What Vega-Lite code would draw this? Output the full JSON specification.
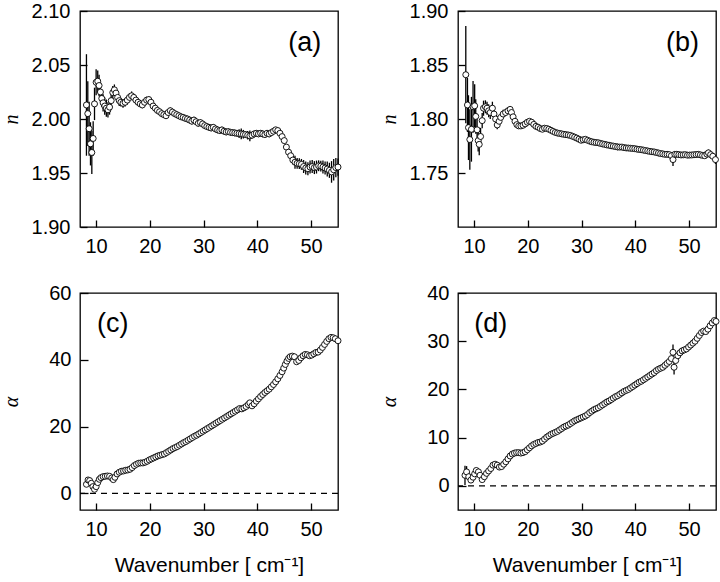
{
"$schema":"https://vega.github.io/schema/vega-lite/v6.json",
"padding":{"left":0,"top":0,"right":2,"bottom":0},
"background":"white",
"config":{"font":"Liberation Sans","view":{"stroke":"black","strokeWidth":1.3},
"axis":{"grid":false,"domain":false,"labelFont":"Liberation Sans","labelFontSize":20,"labelColor":"black","tickColor":"black","tickWidth":1.3,"titleFontWeight":"normal","titleColor":"black"}},
"datasets":{
"a":[{"x":8.2,"y":2.013,"e":0.047},{"x":8.45,"y":2.005,"e":0.03},{"x":8.7,"y":1.991,"e":0.025},{"x":8.95,"y":1.977,"e":0.02},{"x":9.2,"y":1.969,"e":0.02},{"x":9.45,"y":1.982,"e":0.016},{"x":9.7,"y":2.014,"e":0.015},{"x":10.0,"y":2.034,"e":0.012},{"x":10.3,"y":2.035,"e":0.01},{"x":10.55,"y":2.031,"e":0.01},{"x":10.8,"y":2.025,"e":0.009},{"x":11.05,"y":2.019,"e":0.008},{"x":11.3,"y":2.015,"e":0.008},{"x":11.6,"y":2.012,"e":0.008},{"x":11.9,"y":2.01,"e":0.008},{"x":12.2,"y":2.0085,"e":0.007},{"x":12.5,"y":2.011,"e":0.007},{"x":12.8,"y":2.017,"e":0.006},{"x":13.1,"y":2.0245,"e":0.006},{"x":13.4,"y":2.027,"e":0.005},{"x":13.7,"y":2.024,"e":0.005},{"x":14.0,"y":2.02,"e":0.005},{"x":14.3,"y":2.017,"e":0.005},{"x":14.6,"y":2.0155,"e":0.004},{"x":15.0,"y":2.0145,"e":0.004},{"x":15.4,"y":2.0155,"e":0.004},{"x":15.8,"y":2.0175,"e":0.004},{"x":16.2,"y":2.02,"e":0.004},{"x":16.6,"y":2.0215,"e":0.004},{"x":17.0,"y":2.02,"e":0.003},{"x":17.4,"y":2.0175,"e":0.003},{"x":17.8,"y":2.0155,"e":0.003},{"x":18.2,"y":2.014,"e":0.003},{"x":18.6,"y":2.013,"e":0.003},{"x":19.0,"y":2.0155,"e":0.003},{"x":19.4,"y":2.0175,"e":0.003},{"x":19.8,"y":2.018,"e":0.003},{"x":20.2,"y":2.0155,"e":0.003},{"x":20.6,"y":2.012,"e":0.003},{"x":21.0,"y":2.01,"e":0.003},{"x":21.4,"y":2.008,"e":0.003},{"x":21.8,"y":2.0067,"e":0.003},{"x":22.2,"y":2.005,"e":0.003},{"x":22.6,"y":2.004,"e":0.003},{"x":23.0,"y":2.003,"e":0.003},{"x":23.4,"y":2.006,"e":0.003},{"x":23.8,"y":2.0077,"e":0.003},{"x":24.2,"y":2.0064,"e":0.003},{"x":24.6,"y":2.005,"e":0.003},{"x":25.0,"y":2.004,"e":0.003},{"x":25.4,"y":2.003,"e":0.003},{"x":25.8,"y":2.002,"e":0.003},{"x":26.2,"y":2.0015,"e":0.003},{"x":26.6,"y":2.0006,"e":0.003},{"x":27.0,"y":2.0,"e":0.003},{"x":27.4,"y":1.999,"e":0.003},{"x":27.8,"y":1.998,"e":0.003},{"x":28.2,"y":1.999,"e":0.003},{"x":28.6,"y":1.9975,"e":0.003},{"x":29.0,"y":1.996,"e":0.003},{"x":29.4,"y":1.9967,"e":0.003},{"x":29.8,"y":1.9954,"e":0.003},{"x":30.2,"y":1.9939,"e":0.003},{"x":30.6,"y":1.993,"e":0.003},{"x":31.0,"y":1.9923,"e":0.003},{"x":31.4,"y":1.9917,"e":0.003},{"x":31.8,"y":1.9923,"e":0.003},{"x":32.2,"y":1.9908,"e":0.003},{"x":32.6,"y":1.9899,"e":0.003},{"x":33.0,"y":1.9893,"e":0.003},{"x":33.4,"y":1.9899,"e":0.003},{"x":33.8,"y":1.9887,"e":0.003},{"x":34.2,"y":1.988,"e":0.003},{"x":34.6,"y":1.9883,"e":0.003},{"x":35.0,"y":1.9877,"e":0.003},{"x":35.4,"y":1.9874,"e":0.003},{"x":35.8,"y":1.9871,"e":0.003},{"x":36.2,"y":1.9868,"e":0.003},{"x":36.6,"y":1.9865,"e":0.004},{"x":37.0,"y":1.9862,"e":0.005},{"x":37.4,"y":1.9859,"e":0.004},{"x":37.8,"y":1.9856,"e":0.003},{"x":38.2,"y":1.985,"e":0.004},{"x":38.6,"y":1.9844,"e":0.005},{"x":39.0,"y":1.985,"e":0.003},{"x":39.4,"y":1.9862,"e":0.003},{"x":39.8,"y":1.9868,"e":0.003},{"x":40.2,"y":1.9862,"e":0.003},{"x":40.6,"y":1.9868,"e":0.003},{"x":41.0,"y":1.9862,"e":0.003},{"x":41.4,"y":1.9856,"e":0.003},{"x":41.8,"y":1.9868,"e":0.003},{"x":42.2,"y":1.9862,"e":0.003},{"x":42.6,"y":1.9874,"e":0.003},{"x":43.0,"y":1.9887,"e":0.002},{"x":43.4,"y":1.99,"e":0.002},{"x":43.8,"y":1.9893,"e":0.002},{"x":44.2,"y":1.9868,"e":0.002},{"x":44.6,"y":1.9837,"e":0.002},{"x":45.0,"y":1.98,"e":0.002},{"x":45.4,"y":1.974,"e":0.002},{"x":45.8,"y":1.9693,"e":0.002},{"x":46.2,"y":1.966,"e":0.003},{"x":46.6,"y":1.962,"e":0.004},{"x":47.0,"y":1.96,"e":0.006},{"x":47.4,"y":1.959,"e":0.005},{"x":47.8,"y":1.9586,"e":0.005},{"x":48.2,"y":1.958,"e":0.005},{"x":48.6,"y":1.956,"e":0.006},{"x":49.0,"y":1.9546,"e":0.006},{"x":49.4,"y":1.954,"e":0.006},{"x":49.8,"y":1.9555,"e":0.006},{"x":50.2,"y":1.956,"e":0.006},{"x":50.6,"y":1.955,"e":0.006},{"x":51.0,"y":1.9555,"e":0.006},{"x":51.4,"y":1.9567,"e":0.005},{"x":51.8,"y":1.9564,"e":0.005},{"x":52.2,"y":1.9555,"e":0.006},{"x":52.6,"y":1.9546,"e":0.006},{"x":53.0,"y":1.9537,"e":0.007},{"x":53.4,"y":1.9525,"e":0.007},{"x":53.8,"y":1.951,"e":0.01},{"x":54.2,"y":1.953,"e":0.01},{"x":54.6,"y":1.955,"e":0.009},{"x":55.0,"y":1.9555,"e":0.008}],
"b":[{"x":8.45,"y":1.841,"e":0.045},{"x":8.76,"y":1.813,"e":0.025},{"x":8.95,"y":1.792,"e":0.03},{"x":9.2,"y":1.781,"e":0.028},{"x":9.5,"y":1.7905,"e":0.03},{"x":9.8,"y":1.8113,"e":0.024},{"x":10.1,"y":1.8122,"e":0.02},{"x":10.3,"y":1.8024,"e":0.016},{"x":10.55,"y":1.79,"e":0.012},{"x":10.75,"y":1.78,"e":0.01},{"x":10.95,"y":1.7765,"e":0.01},{"x":11.2,"y":1.7838,"e":0.008},{"x":11.5,"y":1.7985,"e":0.007},{"x":11.75,"y":1.81,"e":0.007},{"x":12.1,"y":1.8113,"e":0.006},{"x":12.4,"y":1.81,"e":0.006},{"x":12.7,"y":1.8076,"e":0.006},{"x":13.0,"y":1.806,"e":0.006},{"x":13.4,"y":1.81,"e":0.006},{"x":13.7,"y":1.8046,"e":0.005},{"x":14.0,"y":1.8,"e":0.004},{"x":14.3,"y":1.7945,"e":0.004},{"x":14.65,"y":1.7979,"e":0.004},{"x":14.95,"y":1.8015,"e":0.004},{"x":15.4,"y":1.8046,"e":0.004},{"x":15.85,"y":1.806,"e":0.003},{"x":16.3,"y":1.8076,"e":0.003},{"x":16.7,"y":1.8089,"e":0.003},{"x":16.95,"y":1.806,"e":0.003},{"x":17.25,"y":1.802,"e":0.003},{"x":17.6,"y":1.7979,"e":0.003},{"x":17.95,"y":1.7948,"e":0.002},{"x":18.3,"y":1.7936,"e":0.002},{"x":18.7,"y":1.7936,"e":0.002},{"x":19.1,"y":1.7942,"e":0.002},{"x":19.5,"y":1.7955,"e":0.002},{"x":19.9,"y":1.797,"e":0.002},{"x":20.3,"y":1.7979,"e":0.002},{"x":20.7,"y":1.797,"e":0.002},{"x":21.1,"y":1.795,"e":0.002},{"x":21.5,"y":1.7932,"e":0.002},{"x":21.9,"y":1.7924,"e":0.002},{"x":22.3,"y":1.7912,"e":0.002},{"x":22.7,"y":1.7905,"e":0.002},{"x":23.1,"y":1.7915,"e":0.002},{"x":23.5,"y":1.7912,"e":0.002},{"x":23.9,"y":1.7905,"e":0.002},{"x":24.3,"y":1.7895,"e":0.002},{"x":24.7,"y":1.7885,"e":0.002},{"x":25.1,"y":1.7876,"e":0.002},{"x":25.5,"y":1.787,"e":0.002},{"x":25.9,"y":1.7866,"e":0.002},{"x":26.3,"y":1.7862,"e":0.002},{"x":26.7,"y":1.7858,"e":0.002},{"x":27.1,"y":1.7855,"e":0.002},{"x":27.5,"y":1.7852,"e":0.002},{"x":27.9,"y":1.7848,"e":0.002},{"x":28.3,"y":1.784,"e":0.002},{"x":28.7,"y":1.7832,"e":0.002},{"x":29.1,"y":1.7823,"e":0.002},{"x":29.5,"y":1.7813,"e":0.002},{"x":29.9,"y":1.7803,"e":0.002},{"x":30.3,"y":1.7808,"e":0.002},{"x":30.7,"y":1.7812,"e":0.002},{"x":31.1,"y":1.7803,"e":0.002},{"x":31.5,"y":1.7795,"e":0.002},{"x":31.9,"y":1.7789,"e":0.002},{"x":32.3,"y":1.7785,"e":0.002},{"x":32.7,"y":1.7782,"e":0.002},{"x":33.1,"y":1.778,"e":0.002},{"x":33.5,"y":1.7774,"e":0.002},{"x":33.9,"y":1.7769,"e":0.002},{"x":34.3,"y":1.7765,"e":0.002},{"x":34.7,"y":1.776,"e":0.002},{"x":35.1,"y":1.7757,"e":0.002},{"x":35.5,"y":1.7752,"e":0.002},{"x":35.9,"y":1.7749,"e":0.002},{"x":36.3,"y":1.7745,"e":0.003},{"x":36.7,"y":1.7741,"e":0.003},{"x":37.1,"y":1.774,"e":0.002},{"x":37.5,"y":1.774,"e":0.002},{"x":37.9,"y":1.7735,"e":0.002},{"x":38.3,"y":1.7732,"e":0.002},{"x":38.7,"y":1.7731,"e":0.002},{"x":39.1,"y":1.7729,"e":0.002},{"x":39.5,"y":1.7727,"e":0.002},{"x":39.9,"y":1.7725,"e":0.002},{"x":40.3,"y":1.7721,"e":0.002},{"x":40.7,"y":1.7718,"e":0.002},{"x":41.1,"y":1.7716,"e":0.002},{"x":41.5,"y":1.7712,"e":0.002},{"x":41.9,"y":1.7708,"e":0.002},{"x":42.3,"y":1.7704,"e":0.002},{"x":42.7,"y":1.77,"e":0.002},{"x":43.1,"y":1.7697,"e":0.002},{"x":43.5,"y":1.7695,"e":0.002},{"x":43.9,"y":1.769,"e":0.002},{"x":44.3,"y":1.7685,"e":0.002},{"x":44.7,"y":1.768,"e":0.002},{"x":45.1,"y":1.7677,"e":0.002},{"x":45.5,"y":1.7673,"e":0.002},{"x":45.9,"y":1.7673,"e":0.002},{"x":46.3,"y":1.767,"e":0.002},{"x":46.7,"y":1.766,"e":0.003},{"x":47.0,"y":1.7624,"e":0.006},{"x":47.35,"y":1.7673,"e":0.003},{"x":47.7,"y":1.7673,"e":0.002},{"x":48.1,"y":1.767,"e":0.002},{"x":48.5,"y":1.7667,"e":0.002},{"x":48.9,"y":1.7668,"e":0.002},{"x":49.3,"y":1.767,"e":0.002},{"x":49.7,"y":1.7665,"e":0.002},{"x":50.1,"y":1.7666,"e":0.002},{"x":50.5,"y":1.7667,"e":0.002},{"x":50.9,"y":1.7669,"e":0.002},{"x":51.3,"y":1.7671,"e":0.002},{"x":51.7,"y":1.7673,"e":0.002},{"x":52.1,"y":1.7668,"e":0.002},{"x":52.5,"y":1.7663,"e":0.002},{"x":52.9,"y":1.766,"e":0.002},{"x":53.3,"y":1.7675,"e":0.003},{"x":53.6,"y":1.7687,"e":0.003},{"x":54.0,"y":1.767,"e":0.003},{"x":54.4,"y":1.7655,"e":0.003},{"x":54.9,"y":1.7624,"e":0.004}],
"c":[{"x":8.2,"y":2.7,"e":0.8},{"x":8.5,"y":4.0,"e":0.8},{"x":8.8,"y":3.8,"e":0.6},{"x":9.1,"y":3.0,"e":0.6},{"x":9.4,"y":2.0,"e":0.5},{"x":9.7,"y":1.2,"e":0.5},{"x":10.0,"y":2.0,"e":0.4},{"x":10.3,"y":3.2,"e":0.4},{"x":10.6,"y":4.2,"e":0.3},{"x":10.9,"y":4.7,"e":0.3},{"x":11.3,"y":5.0,"e":0.3},{"x":11.7,"y":5.1,"e":0.3},{"x":12.1,"y":5.2,"e":0.3},{"x":12.5,"y":5.1,"e":0.3},{"x":12.9,"y":4.6,"e":0.3},{"x":13.2,"y":4.1,"e":0.3},{"x":13.5,"y":4.8,"e":0.3},{"x":13.9,"y":5.8,"e":0.3},{"x":14.3,"y":6.3,"e":0.3},{"x":14.7,"y":6.6,"e":0.3},{"x":15.1,"y":6.7,"e":0.3},{"x":15.5,"y":6.9,"e":0.3},{"x":15.9,"y":7.0,"e":0.3},{"x":16.3,"y":7.2,"e":0.3},{"x":16.7,"y":7.7,"e":0.3},{"x":17.1,"y":8.3,"e":0.3},{"x":17.5,"y":8.7,"e":0.3},{"x":17.9,"y":9.0,"e":0.3},{"x":18.3,"y":9.1,"e":0.3},{"x":18.7,"y":9.1,"e":0.3},{"x":19.1,"y":9.3,"e":0.3},{"x":19.5,"y":9.6,"e":0.3},{"x":19.9,"y":10.0,"e":0.3},{"x":20.3,"y":10.3,"e":0.3},{"x":20.7,"y":10.6,"e":0.3},{"x":21.1,"y":10.9,"e":0.3},{"x":21.5,"y":11.2,"e":0.3},{"x":21.9,"y":11.4,"e":0.3},{"x":22.3,"y":11.6,"e":0.3},{"x":22.7,"y":11.8,"e":0.3},{"x":23.1,"y":12.2,"e":0.3},{"x":23.5,"y":12.6,"e":0.3},{"x":23.9,"y":13.0,"e":0.3},{"x":24.3,"y":13.4,"e":0.3},{"x":24.7,"y":13.7,"e":0.3},{"x":25.1,"y":14.0,"e":0.3},{"x":25.5,"y":14.4,"e":0.3},{"x":25.9,"y":14.8,"e":0.3},{"x":26.3,"y":15.2,"e":0.3},{"x":26.7,"y":15.5,"e":0.3},{"x":27.1,"y":15.9,"e":0.3},{"x":27.5,"y":16.3,"e":0.3},{"x":27.9,"y":16.7,"e":0.3},{"x":28.3,"y":17.1,"e":0.3},{"x":28.7,"y":17.4,"e":0.3},{"x":29.1,"y":17.8,"e":0.3},{"x":29.5,"y":18.2,"e":0.3},{"x":29.9,"y":18.6,"e":0.3},{"x":30.3,"y":19.0,"e":0.3},{"x":30.7,"y":19.4,"e":0.3},{"x":31.1,"y":19.8,"e":0.3},{"x":31.5,"y":20.2,"e":0.3},{"x":31.9,"y":20.6,"e":0.3},{"x":32.3,"y":21.0,"e":0.3},{"x":32.7,"y":21.4,"e":0.3},{"x":33.1,"y":21.8,"e":0.3},{"x":33.5,"y":22.2,"e":0.3},{"x":33.9,"y":22.6,"e":0.3},{"x":34.3,"y":23.0,"e":0.3},{"x":34.7,"y":23.4,"e":0.3},{"x":35.1,"y":23.8,"e":0.3},{"x":35.5,"y":24.2,"e":0.3},{"x":35.9,"y":24.6,"e":0.3},{"x":36.3,"y":25.0,"e":0.3},{"x":36.7,"y":25.4,"e":0.3},{"x":37.1,"y":25.3,"e":0.3},{"x":37.5,"y":25.6,"e":0.3},{"x":37.9,"y":26.0,"e":0.3},{"x":38.3,"y":26.6,"e":0.3},{"x":38.6,"y":27.1,"e":0.3},{"x":39.0,"y":26.2,"e":0.3},{"x":39.4,"y":26.8,"e":0.3},{"x":39.8,"y":27.6,"e":0.3},{"x":40.2,"y":28.3,"e":0.3},{"x":40.6,"y":29.0,"e":0.3},{"x":41.0,"y":29.6,"e":0.3},{"x":41.4,"y":30.2,"e":0.3},{"x":41.8,"y":30.7,"e":0.3},{"x":42.2,"y":31.2,"e":0.3},{"x":42.6,"y":31.9,"e":0.3},{"x":43.0,"y":32.6,"e":0.3},{"x":43.4,"y":33.4,"e":0.3},{"x":43.8,"y":34.3,"e":0.3},{"x":44.2,"y":35.3,"e":0.3},{"x":44.6,"y":36.4,"e":0.3},{"x":44.9,"y":37.5,"e":0.3},{"x":45.2,"y":38.6,"e":0.3},{"x":45.5,"y":39.6,"e":0.3},{"x":45.8,"y":40.4,"e":0.3},{"x":46.1,"y":40.9,"e":0.3},{"x":46.5,"y":41.1,"e":0.3},{"x":46.9,"y":40.9,"e":0.3},{"x":47.3,"y":39.4,"e":0.3},{"x":47.7,"y":39.8,"e":0.3},{"x":48.1,"y":40.6,"e":0.3},{"x":48.5,"y":41.2,"e":0.3},{"x":48.9,"y":41.6,"e":0.3},{"x":49.3,"y":41.5,"e":0.3},{"x":49.7,"y":41.2,"e":0.3},{"x":50.1,"y":41.4,"e":0.3},{"x":50.5,"y":41.8,"e":0.3},{"x":50.9,"y":42.2,"e":0.3},{"x":51.3,"y":42.3,"e":0.3},{"x":51.7,"y":42.9,"e":0.3},{"x":52.1,"y":43.7,"e":0.3},{"x":52.5,"y":44.6,"e":0.3},{"x":52.9,"y":45.5,"e":0.3},{"x":53.3,"y":46.3,"e":0.3},{"x":53.7,"y":46.7,"e":0.3},{"x":54.1,"y":46.6,"e":0.3},{"x":54.5,"y":46.3,"e":0.3},{"x":55.0,"y":45.7,"e":0.3}],
"d":[{"x":8.3,"y":2.2,"e":2.0},{"x":8.6,"y":2.9,"e":1.2},{"x":9.0,"y":1.9,"e":0.8},{"x":9.4,"y":1.2,"e":0.6},{"x":9.8,"y":1.8,"e":0.5},{"x":10.1,"y":2.5,"e":0.4},{"x":10.4,"y":3.2,"e":0.4},{"x":10.8,"y":2.9,"e":0.3},{"x":11.1,"y":2.2,"e":0.3},{"x":11.5,"y":1.3,"e":0.3},{"x":11.9,"y":1.9,"e":0.3},{"x":12.3,"y":2.6,"e":0.3},{"x":12.7,"y":3.1,"e":0.3},{"x":13.1,"y":3.6,"e":0.3},{"x":13.5,"y":4.3,"e":0.3},{"x":13.9,"y":4.5,"e":0.3},{"x":14.3,"y":4.3,"e":0.3},{"x":14.7,"y":3.9,"e":0.3},{"x":15.1,"y":4.0,"e":0.3},{"x":15.5,"y":4.5,"e":0.3},{"x":15.9,"y":5.0,"e":0.3},{"x":16.3,"y":5.6,"e":0.3},{"x":16.7,"y":6.2,"e":0.3},{"x":17.1,"y":6.6,"e":0.3},{"x":17.5,"y":6.8,"e":0.3},{"x":17.9,"y":6.9,"e":0.3},{"x":18.3,"y":6.9,"e":0.3},{"x":18.7,"y":6.8,"e":0.3},{"x":19.1,"y":6.9,"e":0.3},{"x":19.5,"y":7.1,"e":0.3},{"x":19.9,"y":7.5,"e":0.3},{"x":20.3,"y":7.9,"e":0.3},{"x":20.7,"y":8.3,"e":0.3},{"x":21.1,"y":8.6,"e":0.3},{"x":21.5,"y":8.8,"e":0.3},{"x":21.9,"y":9.0,"e":0.3},{"x":22.3,"y":9.1,"e":0.3},{"x":22.7,"y":9.3,"e":0.3},{"x":23.1,"y":9.7,"e":0.3},{"x":23.5,"y":10.1,"e":0.3},{"x":23.9,"y":10.4,"e":0.3},{"x":24.3,"y":10.7,"e":0.3},{"x":24.7,"y":10.9,"e":0.3},{"x":25.1,"y":11.1,"e":0.3},{"x":25.5,"y":11.3,"e":0.3},{"x":25.9,"y":11.6,"e":0.3},{"x":26.3,"y":11.9,"e":0.3},{"x":26.7,"y":12.2,"e":0.3},{"x":27.1,"y":12.4,"e":0.3},{"x":27.5,"y":12.6,"e":0.3},{"x":27.9,"y":12.9,"e":0.3},{"x":28.3,"y":13.2,"e":0.3},{"x":28.7,"y":13.5,"e":0.3},{"x":29.1,"y":13.7,"e":0.3},{"x":29.5,"y":13.9,"e":0.3},{"x":29.9,"y":14.1,"e":0.3},{"x":30.3,"y":14.3,"e":0.3},{"x":30.7,"y":14.5,"e":0.3},{"x":31.1,"y":14.8,"e":0.3},{"x":31.5,"y":15.2,"e":0.3},{"x":31.9,"y":15.5,"e":0.3},{"x":32.3,"y":15.8,"e":0.3},{"x":32.7,"y":16.0,"e":0.3},{"x":33.1,"y":16.2,"e":0.3},{"x":33.5,"y":16.5,"e":0.3},{"x":33.9,"y":16.8,"e":0.3},{"x":34.3,"y":17.1,"e":0.3},{"x":34.7,"y":17.4,"e":0.3},{"x":35.1,"y":17.6,"e":0.3},{"x":35.5,"y":17.9,"e":0.3},{"x":35.9,"y":18.2,"e":0.3},{"x":36.3,"y":18.5,"e":0.3},{"x":36.7,"y":18.7,"e":0.3},{"x":37.1,"y":19.0,"e":0.3},{"x":37.5,"y":19.3,"e":0.3},{"x":37.9,"y":19.6,"e":0.3},{"x":38.3,"y":19.8,"e":0.3},{"x":38.7,"y":20.0,"e":0.3},{"x":39.1,"y":20.3,"e":0.3},{"x":39.5,"y":20.6,"e":0.3},{"x":39.9,"y":20.9,"e":0.3},{"x":40.3,"y":21.2,"e":0.3},{"x":40.7,"y":21.5,"e":0.3},{"x":41.1,"y":21.7,"e":0.3},{"x":41.5,"y":22.0,"e":0.3},{"x":41.9,"y":22.3,"e":0.3},{"x":42.3,"y":22.6,"e":0.3},{"x":42.7,"y":22.9,"e":0.3},{"x":43.1,"y":23.2,"e":0.3},{"x":43.5,"y":23.5,"e":0.3},{"x":43.9,"y":23.9,"e":0.3},{"x":44.3,"y":24.2,"e":0.3},{"x":44.7,"y":24.4,"e":0.3},{"x":45.1,"y":24.6,"e":0.3},{"x":45.5,"y":25.0,"e":0.3},{"x":45.9,"y":25.4,"e":0.3},{"x":46.3,"y":25.8,"e":0.3},{"x":46.7,"y":26.4,"e":0.4},{"x":47.0,"y":27.7,"e":1.6},{"x":47.2,"y":24.6,"e":1.5},{"x":47.5,"y":26.0,"e":0.5},{"x":47.9,"y":27.0,"e":0.3},{"x":48.3,"y":27.6,"e":0.3},{"x":48.7,"y":28.0,"e":0.3},{"x":49.1,"y":28.2,"e":0.3},{"x":49.5,"y":28.4,"e":0.3},{"x":49.9,"y":28.8,"e":0.3},{"x":50.3,"y":29.2,"e":0.3},{"x":50.7,"y":29.6,"e":0.3},{"x":51.1,"y":30.0,"e":0.3},{"x":51.5,"y":30.6,"e":0.3},{"x":51.9,"y":31.2,"e":0.3},{"x":52.3,"y":31.8,"e":0.3},{"x":52.7,"y":32.1,"e":0.3},{"x":53.1,"y":32.0,"e":0.3},{"x":53.5,"y":32.5,"e":0.3},{"x":53.9,"y":33.2,"e":0.3},{"x":54.3,"y":33.8,"e":0.4},{"x":54.7,"y":34.3,"e":0.5},{"x":55.0,"y":34.1,"e":0.8}]
},
"spacing":25,
"vconcat":[
{"spacing":34,"hconcat":[
{"width":258,"height":216,
"layer":[
{"data":{"name":"a"},"mark":{"type":"errorbar","color":"black","thickness":1.3},
"encoding":{"x":{"field":"x","type":"quantitative","scale":{"domain":[7,55],"nice":false,"zero":false},"axis":{"title":null,"values":[10,15,20,25,30,35,40,45,50],"labelExpr":"datum.value % 10 === 0 ? datum.label : ''","tickSize":{"condition":{"test":"datum.value % 10 === 0","value":-7},"value":-4},"labelPadding":16}},
"y":{"field":"y","type":"quantitative","scale":{"domain":[1.9,2.1],"nice":false,"zero":false},"axis":{"title":"n","titleFont":"Liberation Serif","titleFontStyle":"italic","titleFontSize":20,"titleBaseline":"top","titleX":-79,"values":[1.9,1.95,2.0,2.05,2.1],"format":".2f","tickSize":-7,"labelPadding":17}},"yError":{"field":"e"}}},
{"data":{"name":"a"},"mark":{"type":"point","shape":"circle","filled":true,"fill":"white","stroke":"black","strokeWidth":0.9,"size":36,"opacity":1},
"encoding":{"x":{"field":"x","type":"quantitative"},"y":{"field":"y","type":"quantitative"}}},
{"data":{"values":[{}]},"mark":{"type":"text","text":"(a)","fontSize":27,"font":"Liberation Sans","align":"center","baseline":"middle","color":"black"},
"encoding":{"x":{"datum":48.8,"type":"quantitative"},"y":{"datum":2.0704,"type":"quantitative"}}}
]},
{"width":258,"height":216,
"layer":[
{"data":{"name":"b"},"mark":{"type":"errorbar","color":"black","thickness":1.3},
"encoding":{"x":{"field":"x","type":"quantitative","scale":{"domain":[7,55],"nice":false,"zero":false},"axis":{"title":null,"values":[10,15,20,25,30,35,40,45,50],"labelExpr":"datum.value % 10 === 0 ? datum.label : ''","tickSize":{"condition":{"test":"datum.value % 10 === 0","value":-7},"value":-4},"labelPadding":16}},
"y":{"field":"y","type":"quantitative","scale":{"domain":[1.7,1.9],"nice":false,"zero":false},"axis":{"title":"n","titleFont":"Liberation Serif","titleFontStyle":"italic","titleFontSize":20,"titleBaseline":"top","titleX":-79,"values":[1.75,1.8,1.85,1.9],"format":".2f","tickSize":-7,"labelPadding":17}},"yError":{"field":"e"}}},
{"data":{"name":"b"},"mark":{"type":"point","shape":"circle","filled":true,"fill":"white","stroke":"black","strokeWidth":0.9,"size":36,"opacity":1},
"encoding":{"x":{"field":"x","type":"quantitative"},"y":{"field":"y","type":"quantitative"}}},
{"data":{"values":[{}]},"mark":{"type":"text","text":"(b)","fontSize":27,"font":"Liberation Sans","align":"center","baseline":"middle","color":"black"},
"encoding":{"x":{"datum":48.75,"type":"quantitative"},"y":{"datum":1.8704,"type":"quantitative"}}}
]}
]},
{"spacing":34,"hconcat":[
{"width":258,"height":217,
"layer":[
{"data":{"name":"c"},"mark":{"type":"errorbar","color":"black","thickness":1.3},
"encoding":{"x":{"field":"x","type":"quantitative","scale":{"domain":[7,55],"nice":false,"zero":false},"axis":{"title":"Wavenumber [ cm⁻¹]","titleFont":"Liberation Sans","titleFontSize":21,"titlePadding":15,"values":[10,15,20,25,30,35,40,45,50],"labelExpr":"datum.value % 10 === 0 ? datum.label : ''","tickSize":{"condition":{"test":"datum.value % 10 === 0","value":-7},"value":-4},"labelPadding":16}},
"y":{"field":"y","type":"quantitative","scale":{"domain":[-5,60],"nice":false,"zero":false},"axis":{"title":"α","titleFont":"Liberation Serif","titleFontStyle":"italic","titleFontSize":20,"titleBaseline":"top","titleX":-79,"values":[0,5,10,15,20,25,30,35,40,45,50,55,60],"labelExpr":"datum.value % 10 === 0 ? datum.label : ''","tickSize":{"condition":{"test":"datum.value % 10 === 0","value":-8},"value":-5},"labelPadding":17}},"yError":{"field":"e"}}},
{"data":{"values":[{}]},"mark":{"type":"rule","strokeDash":[6,5],"color":"black","strokeWidth":1.2},
"encoding":{"y":{"datum":0,"type":"quantitative"}}},
{"data":{"name":"c"},"mark":{"type":"point","shape":"circle","filled":true,"fill":"white","stroke":"black","strokeWidth":0.9,"size":36,"opacity":1},
"encoding":{"x":{"field":"x","type":"quantitative"},"y":{"field":"y","type":"quantitative"}}},
{"data":{"values":[{}]},"mark":{"type":"text","text":"(c)","fontSize":27,"font":"Liberation Sans","align":"center","baseline":"middle","color":"black"},
"encoding":{"x":{"datum":13.1,"type":"quantitative"},"y":{"datum":50.7,"type":"quantitative"}}}
]},
{"width":258,"height":217,
"layer":[
{"data":{"name":"d"},"mark":{"type":"errorbar","color":"black","thickness":1.3},
"encoding":{"x":{"field":"x","type":"quantitative","scale":{"domain":[7,55],"nice":false,"zero":false},"axis":{"title":"Wavenumber [ cm⁻¹]","titleFont":"Liberation Sans","titleFontSize":21,"titlePadding":15,"values":[10,15,20,25,30,35,40,45,50],"labelExpr":"datum.value % 10 === 0 ? datum.label : ''","tickSize":{"condition":{"test":"datum.value % 10 === 0","value":-7},"value":-4},"labelPadding":16}},
"y":{"field":"y","type":"quantitative","scale":{"domain":[-5,40],"nice":false,"zero":false},"axis":{"title":"α","titleFont":"Liberation Serif","titleFontStyle":"italic","titleFontSize":20,"titleBaseline":"top","titleX":-79,"values":[0,5,10,15,20,25,30,35,40],"labelExpr":"datum.value % 10 === 0 ? datum.label : ''","tickSize":{"condition":{"test":"datum.value % 10 === 0","value":-8},"value":-5},"labelPadding":17}},"yError":{"field":"e"}}},
{"data":{"values":[{}]},"mark":{"type":"rule","strokeDash":[6,5],"color":"black","strokeWidth":1.2},
"encoding":{"y":{"datum":0,"type":"quantitative"}}},
{"data":{"name":"d"},"mark":{"type":"point","shape":"circle","filled":true,"fill":"white","stroke":"black","strokeWidth":0.9,"size":36,"opacity":1},
"encoding":{"x":{"field":"x","type":"quantitative"},"y":{"field":"y","type":"quantitative"}}},
{"data":{"values":[{}]},"mark":{"type":"text","text":"(d)","fontSize":27,"font":"Liberation Sans","align":"center","baseline":"middle","color":"black"},
"encoding":{"x":{"datum":13.1,"type":"quantitative"},"y":{"datum":33.6,"type":"quantitative"}}}
]}
]}
]
}
